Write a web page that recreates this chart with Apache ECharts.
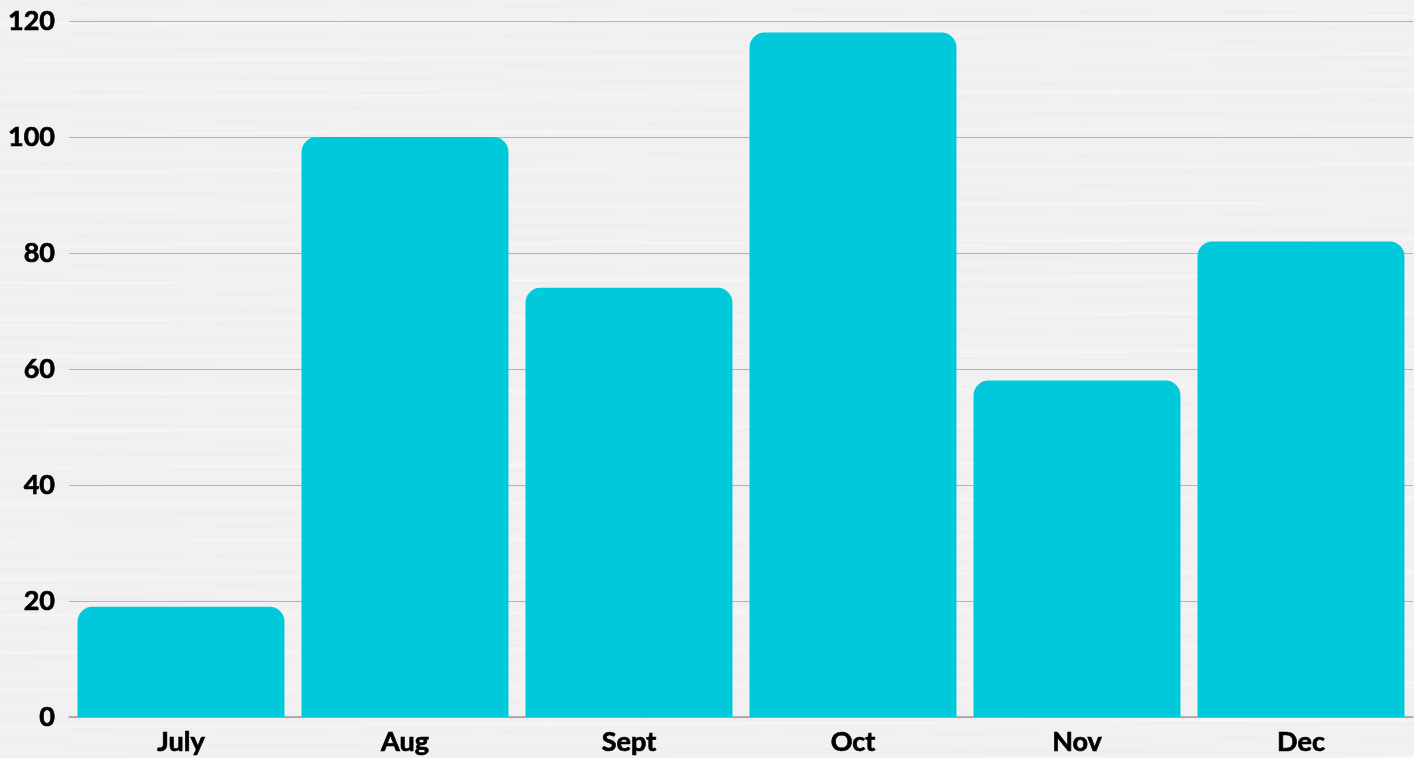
<!DOCTYPE html>
<html>
<head>
<meta charset="utf-8">
<title>Monthly bars</title>
<script src="https://cdn.jsdelivr.net/npm/echarts@6/dist/echarts.min.js"></script>
<style>
  html, body {
    margin: 0;
    padding: 0;
    width: 100%;
    height: 100%;
    background-color: #f1f1f1;
    background-image:
      repeating-linear-gradient(0.4deg, rgba(0,0,0,0.018) 0px, rgba(0,0,0,0) 2px, rgba(0,0,0,0) 13px, rgba(0,0,0,0.015) 14px, rgba(0,0,0,0) 17px, rgba(0,0,0,0) 29px),
      repeating-linear-gradient(-0.3deg, rgba(255,255,255,0.4) 0px, rgba(255,255,255,0) 5px, rgba(255,255,255,0) 37px);
  }
  #chart {
    width: 1414px;
    height: 758px;
  }
</style>
</head>
<body>
<div id="chart"></div>
<script>
var months = ['July', 'Aug', 'Sept', 'Oct', 'Nov', 'Dec'];
var values = [19, 100, 74, 118, 58, 82];
var yTicks = [0, 20, 40, 60, 80, 100, 120];

var chart = echarts.init(document.getElementById('chart'), null, { renderer: 'canvas' });

// shared look of both axes' labels (thin stroke makes the bold a touch heavier)
var labelStyle = {
  color: '#000000',
  fontFamily: 'Lato',
  fontWeight: 'bold',
  fontSize: 27,
  textBorderColor: '#000000',
  textBorderWidth: 0.7
};

chart.setOption({
  backgroundColor: 'transparent',
  animation: false,
  grid: {
    left: 69,
    right: 1,
    top: 21,
    bottom: 41,
    containLabel: false
  },
  xAxis: {
    type: 'category',
    data: months,
    axisTick: { show: false },
    axisLine: { show: true, lineStyle: { color: '#a0a0a0', width: 1.5 } },
    axisLabel: Object.assign({ margin: 12 }, labelStyle)
  },
  yAxis: {
    type: 'value',
    min: yTicks[0],
    max: yTicks[yTicks.length - 1],
    interval: 20,
    axisLine: { show: false },
    axisTick: { show: false },
    splitLine: { show: true, lineStyle: { color: '#b4b4b4', width: 1 } },
    axisLabel: Object.assign({ margin: 14 }, labelStyle)
  },
  series: [{
    type: 'bar',
    data: values,
    barCategoryGap: '7.6%',
    itemStyle: {
      color: '#00c9dc',
      borderRadius: [15, 15, 0, 0]
    }
  }]
});
</script>
</body>
</html>
